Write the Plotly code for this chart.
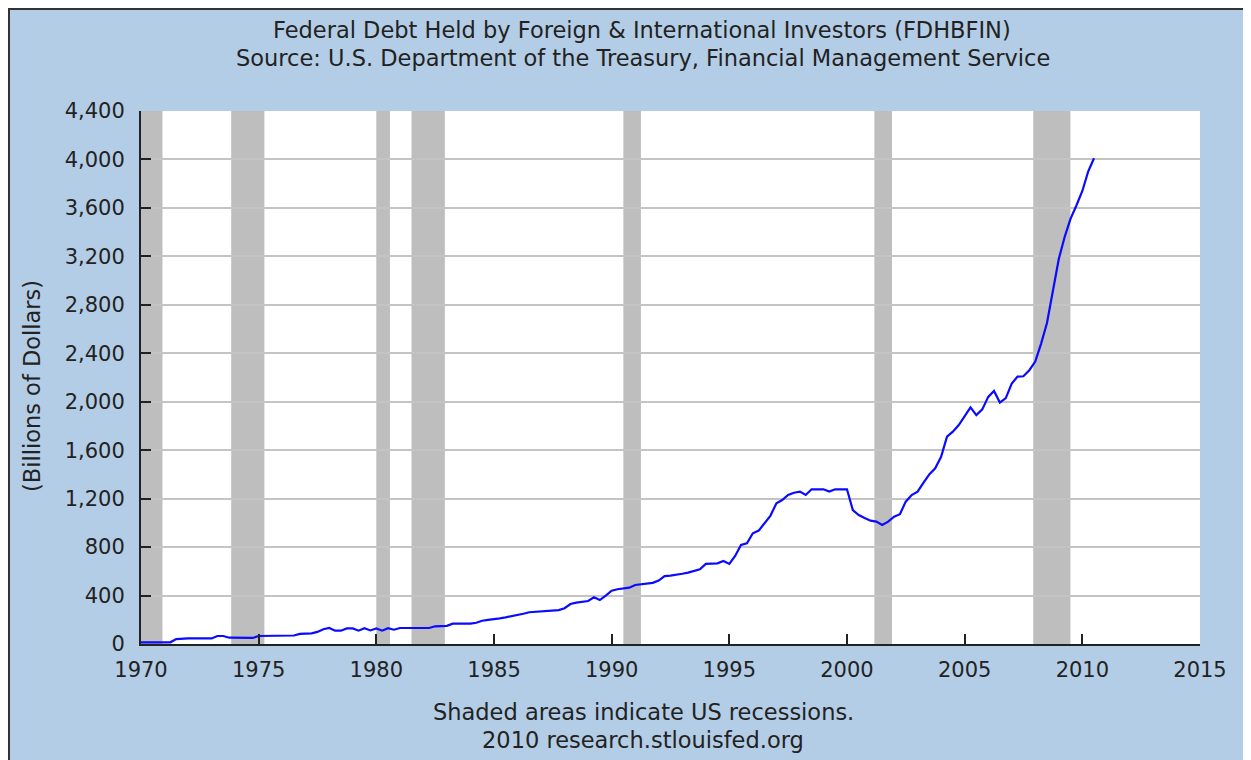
import pandas as pd
import plotly.graph_objects as go

# ---------------- data ----------------
start_quarter = "1970-01-01"
debt_1970s = [13, 13, 13, 13,   13, 14, 40, 46,   46, 46, 46, 46,   46, 66, 66, 52,
              50, 50, 50, 50,   66, 66, 66, 66,   66, 66, 70, 83,   83, 88, 100, 122,
              132, 110, 110, 129,  129, 110, 130, 112]
debt_1980s = [128, 110, 130, 118,  132, 132, 132, 132,  132, 132, 146, 146,  150, 168, 168, 168,
              168, 175, 192, 199,  204, 212, 220, 228,  237, 250, 262, 265,  267, 272, 275, 280,
              295, 330, 341, 348,  355, 385, 363, 400]
debt_1990s = [440, 452, 457, 465,  487, 492, 500, 505,  523, 561, 565, 570,  580, 589, 600, 617,
              661, 663, 666, 685,  661, 727, 818, 832,  914, 936, 996, 1060,  1162, 1189, 1230, 1249,
              1258, 1230, 1277, 1277,  1277, 1258, 1277, 1277]
debt_2000s = [1277, 1106, 1065, 1040,  1018, 1010, 983, 1010,  1051, 1071, 1175, 1230,  1258, 1330, 1400, 1450,
              1546, 1711, 1753, 1808,  1877, 1954, 1890, 1937,  2040, 2089, 1993, 2030,  2150, 2207, 2210, 2260,
              2331, 2480, 2650, 2922,  3180, 3360, 3510, 3620]
debt_2010s = [3740, 3900, 4010]

recession_starts = ["1969-12-01", "1973-11-01", "1980-01-01", "1981-07-01",
                    "1990-07-01", "2001-03-01", "2007-12-01"]
recession_ends = ["1970-11-30", "1975-03-31", "1980-07-31", "1982-11-30",
                  "1991-03-31", "2001-11-30", "2009-06-30"]

y_ticks = [0, 400, 800, 1200, 1600, 2000, 2400, 2800, 3200, 3600, 4000, 4400]
x_tick_years = [1970, 1975, 1980, 1985, 1990, 1995, 2000, 2005, 2010, 2015]

title_line1 = "Federal Debt Held by Foreign & International Investors (FDHBFIN)"
title_line2 = "Source: U.S. Department of the Treasury, Financial Management Service"
footer_line1 = "Shaded areas indicate US recessions."
footer_line2 = "2010 research.stlouisfed.org"
y_label = "(Billions of Dollars)"

values = debt_1970s + debt_1980s + debt_1990s + debt_2000s + debt_2010s
dates = pd.date_range(start_quarter, periods=len(values), freq="QS")

# ---------------- layout geometry ----------------
OFF = 8  # page body margin
W, H = 1251 - OFF, 760 - OFF
L, R, T, B = 141 - OFF, 1200 - OFF, 111 - OFF, 644 - OFF
BG = "#B4CDE6"
TXT = "#222222"
FONT = "DejaVu Sans"
TS = 22.5   # title / footer font size
KS = 21     # tick font size


def px_x(px_ref):
    return (px_ref - OFF - L) / (R - L)


def px_y(py_ref):
    return (B - (py_ref - OFF)) / (B - T)


fig = go.Figure()
fig.add_trace(go.Scatter(x=dates, y=values, mode="lines",
                         line=dict(color="#0a0aff", width=2.2), hoverinfo="x+y",
                         showlegend=False))

shapes = []
for s, e in zip(recession_starts, recession_ends):
    shapes.append(dict(type="rect", xref="x", yref="paper", x0=s, x1=e, y0=0, y1=1,
                       fillcolor="#BEBEBE", line=dict(width=0), layer="between"))

# dark frame along top and left edges
shapes.append(dict(type="line", xref="paper", yref="paper", x0=px_x(8), x1=px_x(1260),
                   y0=px_y(9), y1=px_y(9), line=dict(color="#333333", width=2), layer="above"))
shapes.append(dict(type="line", xref="paper", yref="paper", x0=px_x(9), x1=px_x(9),
                   y0=px_y(8), y1=px_y(770), line=dict(color="#333333", width=2), layer="above"))

annotations = [
    dict(text=title_line1, x=px_x(642), y=px_y(30), xref="paper", yref="paper",
         showarrow=False, xanchor="center", yanchor="middle", font=dict(size=TS, color=TXT, family=FONT)),
    dict(text=title_line2, x=px_x(643), y=px_y(58), xref="paper", yref="paper",
         showarrow=False, xanchor="center", yanchor="middle", font=dict(size=TS, color=TXT, family=FONT)),
    dict(text=footer_line1, x=px_x(643), y=px_y(712), xref="paper", yref="paper",
         showarrow=False, xanchor="center", yanchor="middle", font=dict(size=TS, color=TXT, family=FONT)),
    dict(text=footer_line2, x=px_x(643), y=px_y(740), xref="paper", yref="paper",
         showarrow=False, xanchor="center", yanchor="middle", font=dict(size=TS, color=TXT, family=FONT)),
    dict(text=y_label, x=px_x(32), y=px_y(386), xref="paper", yref="paper", textangle=-90,
         showarrow=False, xanchor="center", yanchor="middle", font=dict(size=TS, color=TXT, family=FONT)),
]

fig.update_layout(
    width=W, height=H,
    margin=dict(l=L, r=W - R, t=T, b=H - B, autoexpand=False),
    paper_bgcolor=BG, plot_bgcolor="white",
    font=dict(family=FONT, size=KS, color=TXT),
    shapes=shapes, annotations=annotations,
    xaxis=dict(type="date", range=["1970-01-01", "2015-01-01"],
               tickvals=[f"{y}-01-01" for y in x_tick_years],
               ticktext=[str(y) for y in x_tick_years],
               ticks="inside", ticklen=10, tickwidth=2, tickcolor="#222222",
               showgrid=False, showline=True, linecolor="#222222", linewidth=2,
               zeroline=False, tickfont=dict(size=KS, color=TXT, family=FONT),
               ticklabelstandoff=6),
    yaxis=dict(range=[0, 4400], tickvals=y_ticks, tickformat=",",
               ticks="inside", ticklen=10, tickwidth=2, tickcolor="#222222",
               showgrid=True, gridcolor="#C4C4C4", gridwidth=2,
               showline=True, linecolor="#222222", linewidth=2,
               zeroline=False, tickfont=dict(size=KS, color=TXT, family=FONT),
               ticklabelstandoff=10),
)

fig.write_html("out.html")
